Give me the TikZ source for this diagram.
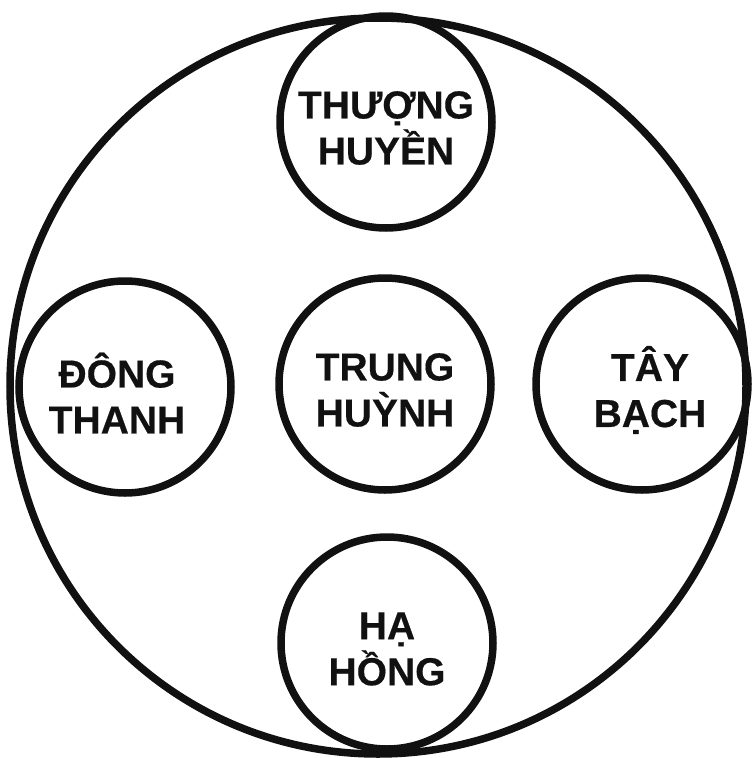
\documentclass[tikz,border=0pt]{standalone}
\usepackage{fontspec}
\setmainfont[BoldFeatures={FakeBold=0.4}]{Liberation Sans}
\definecolor{ink}{HTML}{111111}

\begin{document}
\begin{tikzpicture}[
  x=1pt,y=-1pt,font=\bfseries\fontsize{39}{46}\selectfont,
  outer/.style={circle,draw=ink,line width=7.5pt,minimum size=736pt,inner sep=0pt},
  region/.style={circle,draw=ink,line width=7.5pt,minimum size=212pt,inner sep=0pt},
  regionname/.style={align=center,text=ink,inner sep=0pt,yshift=-6pt}
]
\path[use as bounding box] (0,0) rectangle (755,758);
\node[outer] (world) at (378,386) {};
% the five regions
\node[region] (north) at (386,122) {};
\node[region] (west) at (125,387) {};
\node[region] (centre) at (385,384) {};
\node[region] (east) at (642,384) {};
\node[region] (south) at (387,643) {};
\node[regionname] (northname) at (north) {THƯỢNG\\HUYỀN};
\node[regionname,xshift=-8pt] (westname) at (west) {ĐÔNG\\THANH};
\node[regionname] (centrename) at (centre) {TRUNG\\HUỲNH};
\node[regionname,xshift=8pt] (eastname) at (east) {TÂY\\BẠCH};
\node[regionname] (southname) at (south) {HẠ\\HỒNG};
\end{tikzpicture}
\end{document}
